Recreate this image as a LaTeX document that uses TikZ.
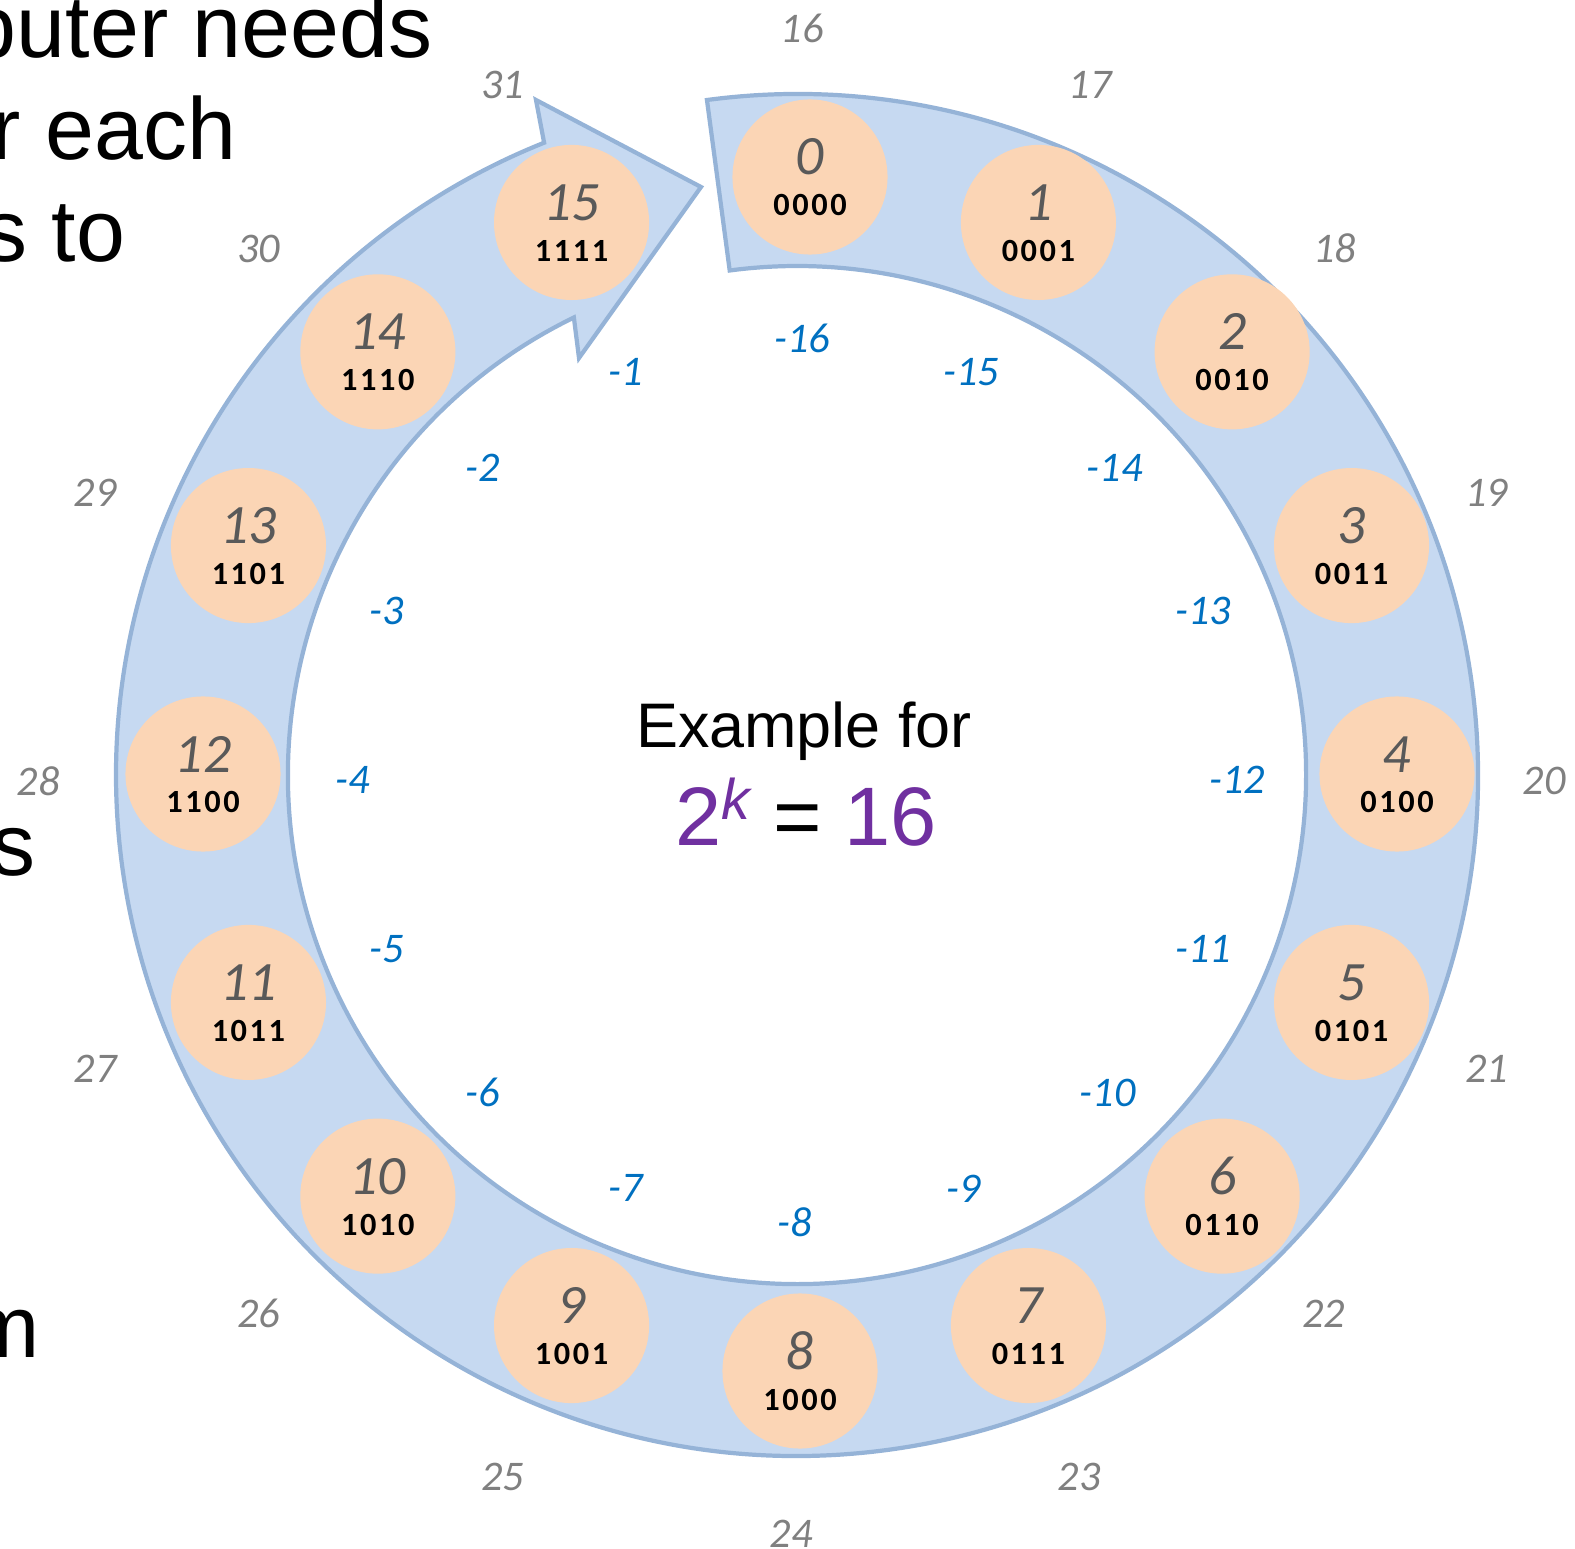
\documentclass[tikz,border=0pt]{standalone}
\usepackage{fontspec}
\setmainfont{Liberation Sans}
\newfontfamily\calibri{Carlito}
\newfontfamily\calbin{Carlito}[LetterSpace=8]
\usepackage{tikz}
\usetikzlibrary{calc, positioning}

\definecolor{ringfill}{RGB}{198,217,241}
\definecolor{ringline}{RGB}{149,179,215}
\definecolor{peach}{RGB}{251,213,181}
\definecolor{darkgrey}{RGB}{89,89,89}
\definecolor{midgrey}{RGB}{128,128,128}
\definecolor{negblue}{RGB}{0,112,192}
\definecolor{purp}{RGB}{112,48,160}

\begin{document}
\begin{tikzpicture}[x=0.01cm, y=-0.01cm,
        num/.style={circle, fill=peach, minimum size=1.55cm, inner sep=0pt},
        dec/.style={anchor=base, inner sep=0pt, text=darkgrey, font=\calibri\itshape\fontsize{15.8}{18}\selectfont},
        bin/.style={anchor=base, inner sep=0pt, font=\calbin\bfseries\fontsize{9.2}{11}\selectfont},
        wrap/.style={text=midgrey, font=\calibri\itshape\fontsize{12}{14}\selectfont},
        neg/.style={text=negblue, font=\calibri\itshape\fontsize{12}{14}\selectfont},
        big/.style={anchor=base east, inner sep=0pt, font=\fontsize{25}{30}\selectfont}]
    \useasboundingbox (0,0) rectangle (1575,1549);

    % slide text cut off at the left
    \begin{scope}
        \clip (0,0) rectangle (1575,1549);
        \node[big] (t1) at (433,58) {puter needs};
        \node[big] (t2) at (237,160) {r each};
        \node[big] (t3) at (126,262) {s to};
        \node[big] (t4) at (36,875) {s};
        \node[big] (t5) at (40,1357) {m};
    \end{scope}

    \coordinate (O) at (797,775);
    \coordinate (C) at (800,774);
    \coordinate (Ow) at (791,781);
    \coordinate (On) at (795,780);
    \coordinate (barbOut) at (536,100);
    \coordinate (tip) at (701,187);
    \coordinate (barbIn) at (579,358);

    % the ring arrow
    \draw[draw=ringline, fill=ringfill, line width=1.2pt, line join=miter]
        ($(O)+(-97.6:681)$) arc[start angle=-97.6, end angle=248.2, radius=681]
        -- (barbOut) -- (tip) -- (barbIn) -- ($(O)+(244:509)$)
        arc[start angle=244, end angle=-97.6, radius=509] -- cycle;

    \foreach \i/\b [evaluate=\i as \dx using {(\i<3)*10}] in
            {0/0000, 1/0001, 2/0010, 3/0011, 4/0100, 5/0101, 6/0110, 7/0111,
             8/1000, 9/1001, 10/1010, 11/1011, 12/1100, 13/1101, 14/1110, 15/1111} {
        \node[num] (n\i) at ($(C)+(-90+22.5*\i:597)+(\dx,0)$) {};
        \node[dec] (d\i) at ($(n\i)+(0,-2)$) {\i};
        \node[bin] (b\i) at ($(n\i)+(0,39)$) {\b};
    }

    \foreach \i [evaluate=\i as \dx using {(\i<19)*11}] in {16,...,31}
        \node[wrap] (w\i) at ($(Ow)+(-90+22.5*\i:753)+(\dx,0)$) {\i};

    \foreach \k [evaluate=\k as \dx using {(\k>13)*7}] in {1,...,16}
        \node[neg] (m\k) at ($(On)+(-90-22.5*\k:442)+(\dx,0)$) {-\k};

    \node[anchor=base, font=\fontsize{17.9}{20}\selectfont] (ex) at (804,748) {Example for};
    \node[anchor=base, font=\fontsize{23.6}{28}\selectfont] (eq) at (806,845)
        {\color{purp}2\raisebox{0.31em}{\fontsize{16.3}{16}\selectfont\itshape k} \color{black}= \color{purp}16};
\end{tikzpicture}
\end{document}
